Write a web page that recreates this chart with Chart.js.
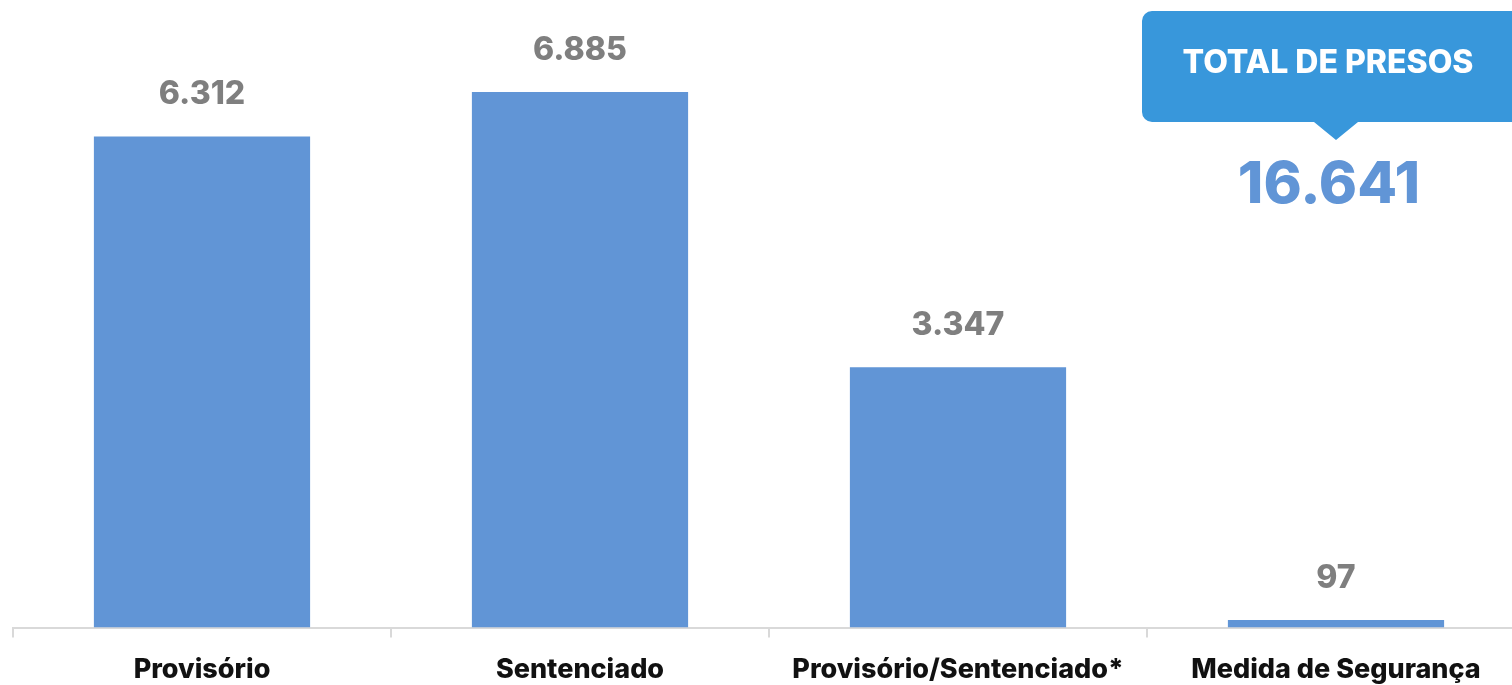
<!DOCTYPE html>
<html>
<head>
<meta charset="utf-8">
<script src="https://cdn.jsdelivr.net/npm/chart.js@4.4.1/dist/chart.umd.min.js"></script>
<style>
  html, body { margin: 0; padding: 0; background: #ffffff; overflow: hidden; }
  #wrap { position: relative; width: 1530px; height: 702px; }
</style>
</head>
<body>
<div id="wrap"><canvas id="c"></canvas></div>
<script>
const categories = ['Provisório', 'Sentenciado', 'Provisório/Sentenciado*', 'Medida de Segurança'];
const presos = [6312, 6885, 3347, 97];
const totalTitle = 'TOTAL DE PRESOS';

const barColor = '#6195d6';
const fmt = v => v.toLocaleString('pt-BR');
const FONT = 'Inter, "Open Sans", "DejaVu Sans", sans-serif';

const valueLabels = {
  id: 'valueLabels',
  afterDatasetsDraw(chart) {
    const ctx = chart.ctx;
    const meta = chart.getDatasetMeta(0);
    ctx.save();
    ctx.font = '800 32px ' + FONT;
    ctx.fillStyle = '#7f7f7f';
    ctx.textAlign = 'center';
    ctx.textBaseline = 'middle';
    meta.data.forEach((bar, i) => {
      ctx.fillText(fmt(presos[i]), bar.x, bar.y - 42);
    });
    ctx.restore();
  }
};

const totalCallout = {
  id: 'totalCallout',
  afterDraw(chart) {
    const ctx = chart.ctx;
    const xs = chart.scales.x;
    const cx = xs.getPixelForValue(categories.length - 1);
    const total = presos.reduce((a, b) => a + b, 0);
    const left = cx - 194, top = 11, w = 400, h = 111, r = 10;
    ctx.save();
    ctx.fillStyle = '#3897db';
    ctx.beginPath();
    ctx.moveTo(left + r, top);
    ctx.lineTo(left + w - r, top);
    ctx.arcTo(left + w, top, left + w, top + r, r);
    ctx.lineTo(left + w, top + h - r);
    ctx.arcTo(left + w, top + h, left + w - r, top + h, r);
    ctx.lineTo(cx + 22, top + h);
    ctx.lineTo(cx, top + h + 18);
    ctx.lineTo(cx - 22, top + h);
    ctx.lineTo(left + r, top + h);
    ctx.arcTo(left, top + h, left, top + h - r, r);
    ctx.lineTo(left, top + r);
    ctx.arcTo(left, top, left + r, top, r);
    ctx.closePath();
    ctx.fill();
    ctx.fillStyle = '#ffffff';
    ctx.font = '800 32px ' + FONT;
    ctx.textAlign = 'center';
    ctx.textBaseline = 'middle';
    ctx.fillText(totalTitle, cx - 8, 63);
    ctx.fillStyle = '#6195d6';
    ctx.font = '800 58px ' + FONT;
    ctx.fillText(fmt(total), cx - 7, 186);
    ctx.restore();
  }
};

new Chart(document.getElementById('c'), {
  type: 'bar',
  data: {
    labels: categories,
    datasets: [{
      data: presos,
      backgroundColor: barColor,
      barPercentage: 0.572,
      categoryPercentage: 1.0
    }]
  },
  options: {
    responsive: true,
    maintainAspectRatio: false,
    animation: false,
    layout: { padding: { left: 13, right: 5, top: 0, bottom: 0 } },
    plugins: { legend: { display: false }, tooltip: { enabled: false } },
    scales: {
      x: {
        offset: true,
        grid: { display: true, drawOnChartArea: false, drawTicks: true, tickLength: 10, color: '#d9d9d9', lineWidth: 2, offset: true },
        border: { display: true, color: '#d9d9d9', width: 2 },
        ticks: { color: '#111111', font: { family: FONT, size: 27, weight: '800' }, padding: 16, maxRotation: 0, autoSkip: false }
      },
      y: {
        display: false,
        min: 0,
        max: 8067
      }
    }
  },
  plugins: [valueLabels, totalCallout]
});
</script>
</body>
</html>
